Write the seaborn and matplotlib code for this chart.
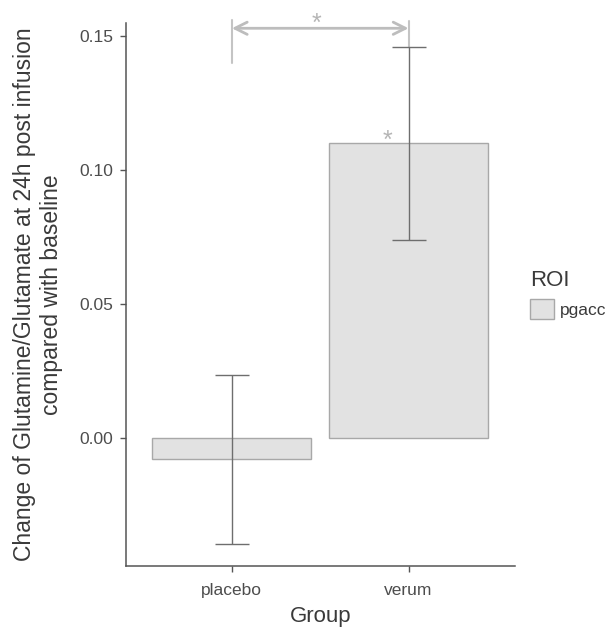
import numpy as np
import pandas as pd
import matplotlib
matplotlib.use('Agg')
import matplotlib.pyplot as plt
import seaborn as sns

# values
groups = ['placebo', 'verum']
roi = ['pgacc', 'pgacc']
change = [-0.008, 0.110]
err = [0.0315, 0.036]
y_ticks = [0.00, 0.05, 0.10, 0.15]

df = pd.DataFrame({'Group': groups, 'ROI': roi, 'change': change})

sns.set_style('white')
plt.rcParams['font.family'] = ['Liberation Sans', 'DejaVu Sans']

fig = plt.figure(figsize=(6.14, 6.29), dpi=100)
ax = fig.add_axes([0.205, 0.100, 0.633, 0.864])

sns.barplot(data=df, x='Group', y='change', hue='ROI', palette=['#e2e2e2'],
            width=0.9, edgecolor='#a8a8a8', linewidth=1.0, ax=ax, errorbar=None)

# error bars
ax.errorbar(range(len(groups)), change, yerr=err, fmt='none',
            ecolor='#6e6e6e', elinewidth=1.0, capsize=12.5, capthick=1.0, zorder=5)

# significance bracket between groups
top = change[1] + err[1]
ax.annotate('', xy=(1, 0.1529), xytext=(0, 0.1529), annotation_clip=False,
            arrowprops=dict(arrowstyle='<->', color='#bdbdbd', lw=2.0,
                            mutation_scale=22, shrinkA=0, shrinkB=0))
ax.plot([0, 0], [0.1398, 0.1560], color='#c4c4c4', lw=1.5, clip_on=False)
ax.plot([1, 1], [top, 0.1558], color='#c4c4c4', lw=1.5, clip_on=False)
ax.text(0.48, 0.1500, '*', color='#b5b5b5', fontsize=18, ha='center', va='bottom', clip_on=False)
ax.text(0.88, change[1] - 0.0035, '*', color='#b5b5b5', fontsize=18, ha='center', va='bottom')

ax.set_xlim(-0.6, 1.6)
ax.set_ylim(-0.0478, 0.155)
ax.set_yticks(y_ticks)
ax.set_yticklabels([f'{t:.2f}' for t in y_ticks])

for side in ['top', 'right']:
    ax.spines[side].set_visible(False)
for side in ['left', 'bottom']:
    ax.spines[side].set_color('#555555')
    ax.spines[side].set_linewidth(1.1)

ax.tick_params(axis='both', which='both', direction='out', length=4, width=1,
               color='#555555', labelcolor='#4d4d4d', labelsize=12.5, pad=5, left=True, bottom=True)
ax.tick_params(axis='x', pad=8)

ax.set_xlabel('Group', fontsize=16, color='#3a3a3a', labelpad=6)
ax.set_ylabel('Change of Glutamine/Glutamate at 24h post infusion\ncompared with baseline',
              fontsize=16.5, color='#3a3a3a', labelpad=12)

leg = ax.legend(title='ROI', loc='center left', bbox_to_anchor=(1.0, 0.50),
                frameon=False, fontsize=12.5, title_fontsize=16,
                handlelength=1.4, handleheight=1.4, handletextpad=0.3, borderaxespad=0.5)
leg._legend_box.align = 'left'
for t in leg.get_texts():
    t.set_color('#3a3a3a')
leg.get_title().set_color('#3a3a3a')

fig.savefig('out.png', dpi=100)
